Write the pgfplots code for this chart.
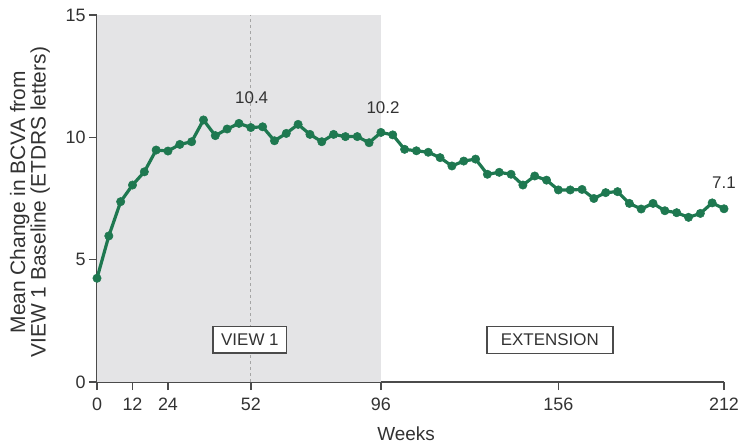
\documentclass[border=0pt]{standalone}
\usepackage{fontspec}
\setmainfont{Liberation Sans}
\usepackage{pgfplots}
\pgfplotsset{compat=1.18}
\definecolor{lgreen}{RGB}{30,120,80}
\definecolor{axisgray}{RGB}{75,75,75}
\definecolor{labelgray}{RGB}{50,50,50}
\definecolor{regiongray}{RGB}{228,228,230}
\definecolor{dashgray}{RGB}{165,165,165}
\pgfplotstableread{
w v
0 4.24
4 5.97
8 7.37
12 8.05
16 8.59
20 9.48
24 9.44
28 9.71
32 9.82
36 10.71
40 10.07
44 10.34
48 10.57
52 10.40
56 10.43
60 9.86
64 10.16
68 10.53
72 10.12
76 9.82
80 10.12
84 10.03
88 10.03
92 9.78
96 10.20
100 10.10
104 9.51
108 9.45
112 9.39
116 9.17
120 8.83
124 9.03
128 9.11
132 8.49
136 8.57
140 8.49
144 8.05
148 8.42
152 8.25
156 7.85
160 7.85
164 7.87
168 7.50
172 7.74
176 7.78
180 7.30
184 7.07
188 7.30
192 7.00
196 6.92
200 6.73
204 6.89
208 7.32
212 7.08
}\bcva
\begin{document}
\begin{tikzpicture}
\begin{axis}[
  set layers,
  width=627bp, height=367bp, scale only axis,
  xmin=0, xmax=212, ymin=0, ymax=15,
  axis lines=left,
  axis line style={-, draw=axisgray, line width=1.8bp},
  xtick={0,12,24,52,96,156,212},
  ytick={0,5,10,15},
  tick align=outside,
  major tick length=8bp,
  tick style={draw=axisgray, line width=1.5bp},
  ticklabel style={font=\fontsize{18}{18}\selectfont, text=labelgray},
  /pgf/number format/assume math mode=true,
  xticklabel style={yshift=-4bp},
  yticklabel style={xshift=0bp},
  xlabel={Weeks},
  xlabel style={at={(axis description cs:0.493,0)}, anchor=center, yshift=-52bp, font=\fontsize{19}{19}\selectfont, text=labelgray},
  ylabel={Mean Change in BCVA from\\VIEW 1 Baseline (ETDRS letters)},
  ylabel style={at={(axis description cs:-0.107,0.49)}, anchor=center, align=center, font=\fontsize{21}{19}\selectfont, text=labelgray},
  clip=false,
]
\fill[regiongray, on layer=axis background] (axis cs:0,0) rectangle (axis cs:96,15);
\draw[dashgray, line width=1.2bp, dash pattern=on 3bp off 3bp, on layer=axis background] (axis cs:52,0) -- (axis cs:52,15);
\addplot[lgreen, line width=3.2bp, mark=*, mark size=4.2bp, mark options={fill=lgreen, draw=lgreen, line width=0.5bp}] table[x=w, y=v] {\bcva};
\node[font=\fontsize{17}{17}\selectfont, text=labelgray] at (axis cs:52.3,11.62) {10.4};
\node[font=\fontsize{17}{17}\selectfont, text=labelgray] at (axis cs:96.7,11.2) {10.2};
\node[font=\fontsize{17}{17}\selectfont, text=labelgray] at (axis cs:212,8.13) {7.1};
\node[draw=axisgray, line width=1.6bp, fill=white, inner xsep=8bp, inner ysep=7.5bp, font=\fontsize{17}{17}\selectfont, text=labelgray] at (axis cs:51.7,1.72) {VIEW 1};
\node[draw=axisgray, line width=1.6bp, fill=white, inner xsep=14bp, inner ysep=7.5bp, font=\fontsize{17}{17}\selectfont, text=labelgray] at (axis cs:153.1,1.72) {EXTENSION};
\end{axis}
\pgfresetboundingbox
\path ([xshift=-97bp,yshift=-63bp]current axis.south west) rectangle ([xshift=14bp,yshift=15bp]current axis.north east);
\end{tikzpicture}
\end{document}
